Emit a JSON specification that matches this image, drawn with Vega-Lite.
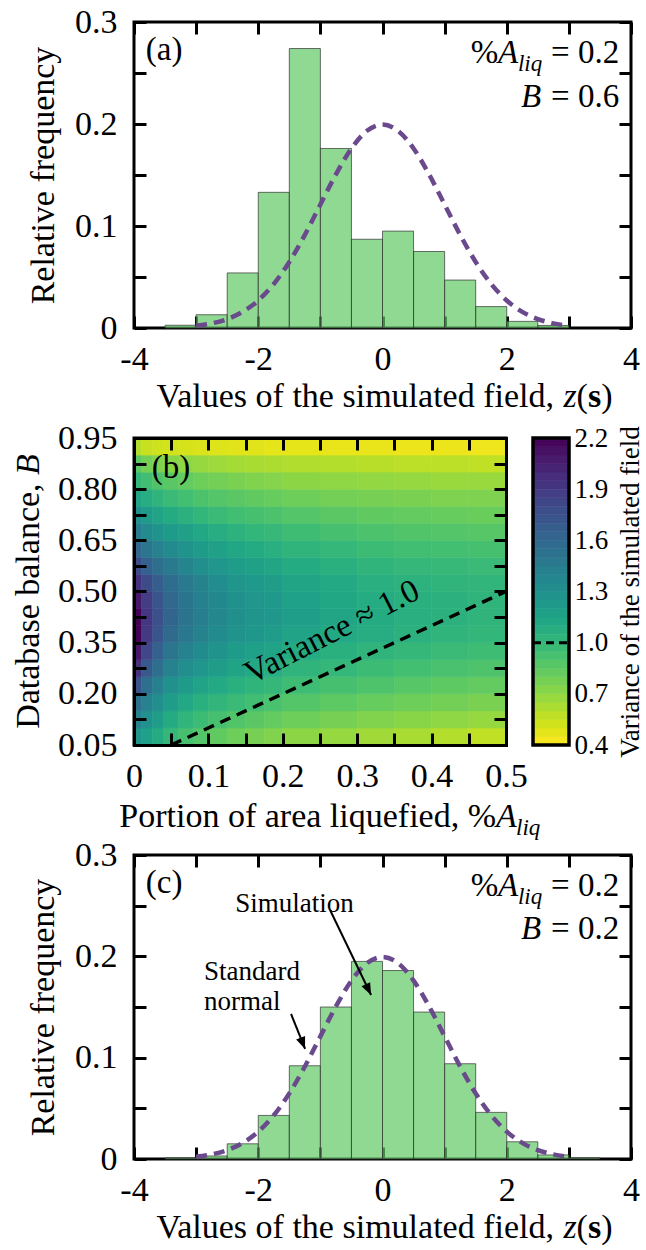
{
"$schema": "https://vega.github.io/schema/vega-lite/v6.json",
"padding": {"left": 10, "top": 3, "right": 0, "bottom": 0},
"background": "white",
"spacing": 110,
"bounds": "flush",
"config": {
  "font": "Liberation Serif",
  "view": {"stroke": "black", "strokeWidth": 3},
  "axis": {"domain": false, "grid": false, "tickColor": "black", "tickWidth": 3, "tickSize": -12, "labelFont": "Liberation Serif", "labelFontSize": 34, "labelColor": "black", "titleFont": "Liberation Serif", "titleFontSize": 34, "titleFontWeight": "normal", "titleColor": "black", "labelFlush": false, "labelOverlap": false},
  "text": {"font": "Liberation Serif", "fontSize": 33, "color": "black"}
},
"datasets": {
  "histA": [
    {"lo": -3.5, "hi": -3, "f": 0.0027}, {"lo": -3, "hi": -2.5, "f": 0.013}, {"lo": -2.5, "hi": -2, "f": 0.054},
    {"lo": -2, "hi": -1.5, "f": 0.133}, {"lo": -1.5, "hi": -1, "f": 0.274}, {"lo": -1, "hi": -0.5, "f": 0.176},
    {"lo": -0.5, "hi": 0, "f": 0.087}, {"lo": 0, "hi": 0.5, "f": 0.095}, {"lo": 0.5, "hi": 1, "f": 0.075},
    {"lo": 1, "hi": 1.5, "f": 0.047}, {"lo": 1.5, "hi": 2, "f": 0.021}, {"lo": 2, "hi": 2.5, "f": 0.0065},
    {"lo": 2.5, "hi": 3, "f": 0.0025}
  ],
  "histC": [
    {"lo": -3.5, "hi": -3, "f": 0.0012}, {"lo": -3, "hi": -2.5, "f": 0.003}, {"lo": -2.5, "hi": -2, "f": 0.015},
    {"lo": -2, "hi": -1.5, "f": 0.043}, {"lo": -1.5, "hi": -1, "f": 0.092}, {"lo": -1, "hi": -0.5, "f": 0.15},
    {"lo": -0.5, "hi": 0, "f": 0.195}, {"lo": 0, "hi": 0.5, "f": 0.186}, {"lo": 0.5, "hi": 1, "f": 0.145},
    {"lo": 1, "hi": 1.5, "f": 0.094}, {"lo": 1.5, "hi": 2, "f": 0.046}, {"lo": 2, "hi": 2.5, "f": 0.017},
    {"lo": 2.5, "hi": 3, "f": 0.004}, {"lo": 3, "hi": 3.5, "f": 0.0012}
  ],
  "normal": [
    {"z": -3, "d": 0.0022}, {"z": -2.75, "d": 0.00455}, {"z": -2.5, "d": 0.00876}, {"z": -2.25, "d": 0.01587},
    {"z": -2, "d": 0.027}, {"z": -1.75, "d": 0.04314}, {"z": -1.5, "d": 0.06476}, {"z": -1.25, "d": 0.09132},
    {"z": -1, "d": 0.12099}, {"z": -0.75, "d": 0.15057}, {"z": -0.5, "d": 0.17603}, {"z": -0.25, "d": 0.19333},
    {"z": 0, "d": 0.19947}, {"z": 0.25, "d": 0.19333}, {"z": 0.5, "d": 0.17603}, {"z": 0.75, "d": 0.15057},
    {"z": 1, "d": 0.12099}, {"z": 1.25, "d": 0.09132}, {"z": 1.5, "d": 0.06476}, {"z": 1.75, "d": 0.04314},
    {"z": 2, "d": 0.027}, {"z": 2.25, "d": 0.01587}, {"z": 2.5, "d": 0.00876}, {"z": 2.75, "d": 0.00455},
    {"z": 3, "d": 0.0022}
  ],
  "arrows": [
    {"x": -0.844, "y": 0.2457, "x2": -0.184, "y2": 0.1618},
    {"x": -1.472, "y": 0.1431, "x2": -1.246, "y2": 0.1086}
  ],
  "vline": [{"a": 0.05, "b": 0.05}, {"a": 0.5, "b": 0.5}],
  "cbar": [
    {"lo": 0.4, "hi": 0.45, "m": 0.425}, {"lo": 0.45, "hi": 0.5, "m": 0.475}, {"lo": 0.5, "hi": 0.55, "m": 0.525},
    {"lo": 0.55, "hi": 0.6, "m": 0.575}, {"lo": 0.6, "hi": 0.65, "m": 0.625}, {"lo": 0.65, "hi": 0.7, "m": 0.675},
    {"lo": 0.7, "hi": 0.75, "m": 0.725}, {"lo": 0.75, "hi": 0.8, "m": 0.775}, {"lo": 0.8, "hi": 0.85, "m": 0.825},
    {"lo": 0.85, "hi": 0.9, "m": 0.875}, {"lo": 0.9, "hi": 0.95, "m": 0.925}, {"lo": 0.95, "hi": 1.0, "m": 0.975},
    {"lo": 1.0, "hi": 1.05, "m": 1.025}, {"lo": 1.05, "hi": 1.1, "m": 1.075}, {"lo": 1.1, "hi": 1.15, "m": 1.125},
    {"lo": 1.15, "hi": 1.2, "m": 1.175}, {"lo": 1.2, "hi": 1.25, "m": 1.225}, {"lo": 1.25, "hi": 1.3, "m": 1.275},
    {"lo": 1.3, "hi": 1.35, "m": 1.325}, {"lo": 1.35, "hi": 1.4, "m": 1.375}, {"lo": 1.4, "hi": 1.45, "m": 1.425},
    {"lo": 1.45, "hi": 1.5, "m": 1.475}, {"lo": 1.5, "hi": 1.55, "m": 1.525}, {"lo": 1.55, "hi": 1.6, "m": 1.575},
    {"lo": 1.6, "hi": 1.65, "m": 1.625}, {"lo": 1.65, "hi": 1.7, "m": 1.675}, {"lo": 1.7, "hi": 1.75, "m": 1.725},
    {"lo": 1.75, "hi": 1.8, "m": 1.775}, {"lo": 1.8, "hi": 1.85, "m": 1.825}, {"lo": 1.85, "hi": 1.9, "m": 1.875},
    {"lo": 1.9, "hi": 1.95, "m": 1.925}, {"lo": 1.95, "hi": 2.0, "m": 1.975}, {"lo": 2.0, "hi": 2.05, "m": 2.025},
    {"lo": 2.05, "hi": 2.1, "m": 2.075}, {"lo": 2.1, "hi": 2.15, "m": 2.125}, {"lo": 2.15, "hi": 2.2, "m": 2.175}
  ],
  "heat": [
    {"a":0,"a2":0.01,"b":0.05,"b2":0.1,"v":1.25},{"a":0,"a2":0.01,"b":0.1,"b2":0.15,"v":1.4},{"a":0,"a2":0.01,"b":0.15,"b2":0.2,"v":1.55},{"a":0,"a2":0.01,"b":0.2,"b2":0.25,"v":1.75},{"a":0,"a2":0.01,"b":0.25,"b2":0.3,"v":1.95},{"a":0,"a2":0.01,"b":0.3,"b2":0.35,"v":2.1},{"a":0,"a2":0.01,"b":0.35,"b2":0.4,"v":2.2},{"a":0,"a2":0.01,"b":0.4,"b2":0.45,"v":2.2},{"a":0,"a2":0.01,"b":0.45,"b2":0.5,"v":2.1},{"a":0,"a2":0.01,"b":0.5,"b2":0.55,"v":1.95},{"a":0,"a2":0.01,"b":0.55,"b2":0.6,"v":1.8},{"a":0,"a2":0.01,"b":0.6,"b2":0.65,"v":1.6},{"a":0,"a2":0.01,"b":0.65,"b2":0.7,"v":1.45},{"a":0,"a2":0.01,"b":0.7,"b2":0.75,"v":1.3},{"a":0,"a2":0.01,"b":0.75,"b2":0.8,"v":1.15},{"a":0,"a2":0.01,"b":0.8,"b2":0.85,"v":1.0},{"a":0,"a2":0.01,"b":0.85,"b2":0.9,"v":0.85},{"a":0,"a2":0.01,"b":0.9,"b2":0.95,"v":0.6},
    {"a":0.01,"a2":0.025,"b":0.05,"b2":0.1,"v":1.18},{"a":0.01,"a2":0.025,"b":0.1,"b2":0.15,"v":1.3},{"a":0.01,"a2":0.025,"b":0.15,"b2":0.2,"v":1.42},{"a":0.01,"a2":0.025,"b":0.2,"b2":0.25,"v":1.55},{"a":0.01,"a2":0.025,"b":0.25,"b2":0.3,"v":1.7},{"a":0.01,"a2":0.025,"b":0.3,"b2":0.35,"v":1.82},{"a":0.01,"a2":0.025,"b":0.35,"b2":0.4,"v":1.9},{"a":0.01,"a2":0.025,"b":0.4,"b2":0.45,"v":1.92},{"a":0.01,"a2":0.025,"b":0.45,"b2":0.5,"v":1.88},{"a":0.01,"a2":0.025,"b":0.5,"b2":0.55,"v":1.8},{"a":0.01,"a2":0.025,"b":0.55,"b2":0.6,"v":1.65},{"a":0.01,"a2":0.025,"b":0.6,"b2":0.65,"v":1.5},{"a":0.01,"a2":0.025,"b":0.65,"b2":0.7,"v":1.35},{"a":0.01,"a2":0.025,"b":0.7,"b2":0.75,"v":1.22},{"a":0.01,"a2":0.025,"b":0.75,"b2":0.8,"v":1.08},{"a":0.01,"a2":0.025,"b":0.8,"b2":0.85,"v":0.95},{"a":0.01,"a2":0.025,"b":0.85,"b2":0.9,"v":0.78},{"a":0.01,"a2":0.025,"b":0.9,"b2":0.95,"v":0.55},
    {"a":0.025,"a2":0.04,"b":0.05,"b2":0.1,"v":1.1},{"a":0.025,"a2":0.04,"b":0.1,"b2":0.15,"v":1.2},{"a":0.025,"a2":0.04,"b":0.15,"b2":0.2,"v":1.32},{"a":0.025,"a2":0.04,"b":0.2,"b2":0.25,"v":1.43},{"a":0.025,"a2":0.04,"b":0.25,"b2":0.3,"v":1.55},{"a":0.025,"a2":0.04,"b":0.3,"b2":0.35,"v":1.65},{"a":0.025,"a2":0.04,"b":0.35,"b2":0.4,"v":1.73},{"a":0.025,"a2":0.04,"b":0.4,"b2":0.45,"v":1.76},{"a":0.025,"a2":0.04,"b":0.45,"b2":0.5,"v":1.73},{"a":0.025,"a2":0.04,"b":0.5,"b2":0.55,"v":1.67},{"a":0.025,"a2":0.04,"b":0.55,"b2":0.6,"v":1.55},{"a":0.025,"a2":0.04,"b":0.6,"b2":0.65,"v":1.42},{"a":0.025,"a2":0.04,"b":0.65,"b2":0.7,"v":1.28},{"a":0.025,"a2":0.04,"b":0.7,"b2":0.75,"v":1.15},{"a":0.025,"a2":0.04,"b":0.75,"b2":0.8,"v":1.03},{"a":0.025,"a2":0.04,"b":0.8,"b2":0.85,"v":0.9},{"a":0.025,"a2":0.04,"b":0.85,"b2":0.9,"v":0.75},{"a":0.025,"a2":0.04,"b":0.9,"b2":0.95,"v":0.53},
    {"a":0.04,"a2":0.06,"b":0.05,"b2":0.1,"v":1.0},{"a":0.04,"a2":0.06,"b":0.1,"b2":0.15,"v":1.1},{"a":0.04,"a2":0.06,"b":0.15,"b2":0.2,"v":1.2},{"a":0.04,"a2":0.06,"b":0.2,"b2":0.25,"v":1.3},{"a":0.04,"a2":0.06,"b":0.25,"b2":0.3,"v":1.41},{"a":0.04,"a2":0.06,"b":0.3,"b2":0.35,"v":1.5},{"a":0.04,"a2":0.06,"b":0.35,"b2":0.4,"v":1.58},{"a":0.04,"a2":0.06,"b":0.4,"b2":0.45,"v":1.62},{"a":0.04,"a2":0.06,"b":0.45,"b2":0.5,"v":1.61},{"a":0.04,"a2":0.06,"b":0.5,"b2":0.55,"v":1.56},{"a":0.04,"a2":0.06,"b":0.55,"b2":0.6,"v":1.47},{"a":0.04,"a2":0.06,"b":0.6,"b2":0.65,"v":1.35},{"a":0.04,"a2":0.06,"b":0.65,"b2":0.7,"v":1.22},{"a":0.04,"a2":0.06,"b":0.7,"b2":0.75,"v":1.1},{"a":0.04,"a2":0.06,"b":0.75,"b2":0.8,"v":0.98},{"a":0.04,"a2":0.06,"b":0.8,"b2":0.85,"v":0.86},{"a":0.04,"a2":0.06,"b":0.85,"b2":0.9,"v":0.72},{"a":0.04,"a2":0.06,"b":0.9,"b2":0.95,"v":0.52},
    {"a":0.06,"a2":0.08,"b":0.05,"b2":0.1,"v":0.93},{"a":0.06,"a2":0.08,"b":0.1,"b2":0.15,"v":1.02},{"a":0.06,"a2":0.08,"b":0.15,"b2":0.2,"v":1.12},{"a":0.06,"a2":0.08,"b":0.2,"b2":0.25,"v":1.22},{"a":0.06,"a2":0.08,"b":0.25,"b2":0.3,"v":1.32},{"a":0.06,"a2":0.08,"b":0.3,"b2":0.35,"v":1.41},{"a":0.06,"a2":0.08,"b":0.35,"b2":0.4,"v":1.48},{"a":0.06,"a2":0.08,"b":0.4,"b2":0.45,"v":1.52},{"a":0.06,"a2":0.08,"b":0.45,"b2":0.5,"v":1.51},{"a":0.06,"a2":0.08,"b":0.5,"b2":0.55,"v":1.47},{"a":0.06,"a2":0.08,"b":0.55,"b2":0.6,"v":1.39},{"a":0.06,"a2":0.08,"b":0.6,"b2":0.65,"v":1.28},{"a":0.06,"a2":0.08,"b":0.65,"b2":0.7,"v":1.17},{"a":0.06,"a2":0.08,"b":0.7,"b2":0.75,"v":1.05},{"a":0.06,"a2":0.08,"b":0.75,"b2":0.8,"v":0.94},{"a":0.06,"a2":0.08,"b":0.8,"b2":0.85,"v":0.83},{"a":0.06,"a2":0.08,"b":0.85,"b2":0.9,"v":0.7},{"a":0.06,"a2":0.08,"b":0.9,"b2":0.95,"v":0.51},
    {"a":0.08,"a2":0.1,"b":0.05,"b2":0.1,"v":0.88},{"a":0.08,"a2":0.1,"b":0.1,"b2":0.15,"v":0.97},{"a":0.08,"a2":0.1,"b":0.15,"b2":0.2,"v":1.06},{"a":0.08,"a2":0.1,"b":0.2,"b2":0.25,"v":1.16},{"a":0.08,"a2":0.1,"b":0.25,"b2":0.3,"v":1.26},{"a":0.08,"a2":0.1,"b":0.3,"b2":0.35,"v":1.34},{"a":0.08,"a2":0.1,"b":0.35,"b2":0.4,"v":1.4},{"a":0.08,"a2":0.1,"b":0.4,"b2":0.45,"v":1.44},{"a":0.08,"a2":0.1,"b":0.45,"b2":0.5,"v":1.43},{"a":0.08,"a2":0.1,"b":0.5,"b2":0.55,"v":1.4},{"a":0.08,"a2":0.1,"b":0.55,"b2":0.6,"v":1.32},{"a":0.08,"a2":0.1,"b":0.6,"b2":0.65,"v":1.22},{"a":0.08,"a2":0.1,"b":0.65,"b2":0.7,"v":1.12},{"a":0.08,"a2":0.1,"b":0.7,"b2":0.75,"v":1.01},{"a":0.08,"a2":0.1,"b":0.75,"b2":0.8,"v":0.91},{"a":0.08,"a2":0.1,"b":0.8,"b2":0.85,"v":0.8},{"a":0.08,"a2":0.1,"b":0.85,"b2":0.9,"v":0.68},{"a":0.08,"a2":0.1,"b":0.9,"b2":0.95,"v":0.5},
    {"a":0.1,"a2":0.125,"b":0.05,"b2":0.1,"v":0.84},{"a":0.1,"a2":0.125,"b":0.1,"b2":0.15,"v":0.93},{"a":0.1,"a2":0.125,"b":0.15,"b2":0.2,"v":1.02},{"a":0.1,"a2":0.125,"b":0.2,"b2":0.25,"v":1.11},{"a":0.1,"a2":0.125,"b":0.25,"b2":0.3,"v":1.2},{"a":0.1,"a2":0.125,"b":0.3,"b2":0.35,"v":1.28},{"a":0.1,"a2":0.125,"b":0.35,"b2":0.4,"v":1.34},{"a":0.1,"a2":0.125,"b":0.4,"b2":0.45,"v":1.37},{"a":0.1,"a2":0.125,"b":0.45,"b2":0.5,"v":1.36},{"a":0.1,"a2":0.125,"b":0.5,"b2":0.55,"v":1.33},{"a":0.1,"a2":0.125,"b":0.55,"b2":0.6,"v":1.26},{"a":0.1,"a2":0.125,"b":0.6,"b2":0.65,"v":1.17},{"a":0.1,"a2":0.125,"b":0.65,"b2":0.7,"v":1.08},{"a":0.1,"a2":0.125,"b":0.7,"b2":0.75,"v":0.98},{"a":0.1,"a2":0.125,"b":0.75,"b2":0.8,"v":0.88},{"a":0.1,"a2":0.125,"b":0.8,"b2":0.85,"v":0.78},{"a":0.1,"a2":0.125,"b":0.85,"b2":0.9,"v":0.66},{"a":0.1,"a2":0.125,"b":0.9,"b2":0.95,"v":0.49},
    {"a":0.125,"a2":0.15,"b":0.05,"b2":0.1,"v":0.8},{"a":0.125,"a2":0.15,"b":0.1,"b2":0.15,"v":0.89},{"a":0.125,"a2":0.15,"b":0.15,"b2":0.2,"v":0.98},{"a":0.125,"a2":0.15,"b":0.2,"b2":0.25,"v":1.06},{"a":0.125,"a2":0.15,"b":0.25,"b2":0.3,"v":1.15},{"a":0.125,"a2":0.15,"b":0.3,"b2":0.35,"v":1.22},{"a":0.125,"a2":0.15,"b":0.35,"b2":0.4,"v":1.28},{"a":0.125,"a2":0.15,"b":0.4,"b2":0.45,"v":1.31},{"a":0.125,"a2":0.15,"b":0.45,"b2":0.5,"v":1.3},{"a":0.125,"a2":0.15,"b":0.5,"b2":0.55,"v":1.27},{"a":0.125,"a2":0.15,"b":0.55,"b2":0.6,"v":1.21},{"a":0.125,"a2":0.15,"b":0.6,"b2":0.65,"v":1.13},{"a":0.125,"a2":0.15,"b":0.65,"b2":0.7,"v":1.04},{"a":0.125,"a2":0.15,"b":0.7,"b2":0.75,"v":0.95},{"a":0.125,"a2":0.15,"b":0.75,"b2":0.8,"v":0.86},{"a":0.125,"a2":0.15,"b":0.8,"b2":0.85,"v":0.76},{"a":0.125,"a2":0.15,"b":0.85,"b2":0.9,"v":0.64},{"a":0.125,"a2":0.15,"b":0.9,"b2":0.95,"v":0.48},
    {"a":0.15,"a2":0.175,"b":0.05,"b2":0.1,"v":0.77},{"a":0.15,"a2":0.175,"b":0.1,"b2":0.15,"v":0.86},{"a":0.15,"a2":0.175,"b":0.15,"b2":0.2,"v":0.95},{"a":0.15,"a2":0.175,"b":0.2,"b2":0.25,"v":1.03},{"a":0.15,"a2":0.175,"b":0.25,"b2":0.3,"v":1.11},{"a":0.15,"a2":0.175,"b":0.3,"b2":0.35,"v":1.18},{"a":0.15,"a2":0.175,"b":0.35,"b2":0.4,"v":1.24},{"a":0.15,"a2":0.175,"b":0.4,"b2":0.45,"v":1.27},{"a":0.15,"a2":0.175,"b":0.45,"b2":0.5,"v":1.26},{"a":0.15,"a2":0.175,"b":0.5,"b2":0.55,"v":1.23},{"a":0.15,"a2":0.175,"b":0.55,"b2":0.6,"v":1.17},{"a":0.15,"a2":0.175,"b":0.6,"b2":0.65,"v":1.1},{"a":0.15,"a2":0.175,"b":0.65,"b2":0.7,"v":1.01},{"a":0.15,"a2":0.175,"b":0.7,"b2":0.75,"v":0.93},{"a":0.15,"a2":0.175,"b":0.75,"b2":0.8,"v":0.84},{"a":0.15,"a2":0.175,"b":0.8,"b2":0.85,"v":0.74},{"a":0.15,"a2":0.175,"b":0.85,"b2":0.9,"v":0.63},{"a":0.15,"a2":0.175,"b":0.9,"b2":0.95,"v":0.48},
    {"a":0.175,"a2":0.2,"b":0.05,"b2":0.1,"v":0.74},{"a":0.175,"a2":0.2,"b":0.1,"b2":0.15,"v":0.83},{"a":0.175,"a2":0.2,"b":0.15,"b2":0.2,"v":0.92},{"a":0.175,"a2":0.2,"b":0.2,"b2":0.25,"v":1.0},{"a":0.175,"a2":0.2,"b":0.25,"b2":0.3,"v":1.08},{"a":0.175,"a2":0.2,"b":0.3,"b2":0.35,"v":1.15},{"a":0.175,"a2":0.2,"b":0.35,"b2":0.4,"v":1.21},{"a":0.175,"a2":0.2,"b":0.4,"b2":0.45,"v":1.24},{"a":0.175,"a2":0.2,"b":0.45,"b2":0.5,"v":1.23},{"a":0.175,"a2":0.2,"b":0.5,"b2":0.55,"v":1.2},{"a":0.175,"a2":0.2,"b":0.55,"b2":0.6,"v":1.14},{"a":0.175,"a2":0.2,"b":0.6,"b2":0.65,"v":1.07},{"a":0.175,"a2":0.2,"b":0.65,"b2":0.7,"v":0.99},{"a":0.175,"a2":0.2,"b":0.7,"b2":0.75,"v":0.91},{"a":0.175,"a2":0.2,"b":0.75,"b2":0.8,"v":0.82},{"a":0.175,"a2":0.2,"b":0.8,"b2":0.85,"v":0.73},{"a":0.175,"a2":0.2,"b":0.85,"b2":0.9,"v":0.62},{"a":0.175,"a2":0.2,"b":0.9,"b2":0.95,"v":0.47},
    {"a":0.2,"a2":0.25,"b":0.05,"b2":0.1,"v":0.71},{"a":0.2,"a2":0.25,"b":0.1,"b2":0.15,"v":0.8},{"a":0.2,"a2":0.25,"b":0.15,"b2":0.2,"v":0.88},{"a":0.2,"a2":0.25,"b":0.2,"b2":0.25,"v":0.96},{"a":0.2,"a2":0.25,"b":0.25,"b2":0.3,"v":1.03},{"a":0.2,"a2":0.25,"b":0.3,"b2":0.35,"v":1.1},{"a":0.2,"a2":0.25,"b":0.35,"b2":0.4,"v":1.16},{"a":0.2,"a2":0.25,"b":0.4,"b2":0.45,"v":1.19},{"a":0.2,"a2":0.25,"b":0.45,"b2":0.5,"v":1.18},{"a":0.2,"a2":0.25,"b":0.5,"b2":0.55,"v":1.15},{"a":0.2,"a2":0.25,"b":0.55,"b2":0.6,"v":1.1},{"a":0.2,"a2":0.25,"b":0.6,"b2":0.65,"v":1.03},{"a":0.2,"a2":0.25,"b":0.65,"b2":0.7,"v":0.96},{"a":0.2,"a2":0.25,"b":0.7,"b2":0.75,"v":0.88},{"a":0.2,"a2":0.25,"b":0.75,"b2":0.8,"v":0.8},{"a":0.2,"a2":0.25,"b":0.8,"b2":0.85,"v":0.71},{"a":0.2,"a2":0.25,"b":0.85,"b2":0.9,"v":0.61},{"a":0.2,"a2":0.25,"b":0.9,"b2":0.95,"v":0.47},
    {"a":0.25,"a2":0.3,"b":0.05,"b2":0.1,"v":0.68},{"a":0.25,"a2":0.3,"b":0.1,"b2":0.15,"v":0.77},{"a":0.25,"a2":0.3,"b":0.15,"b2":0.2,"v":0.85},{"a":0.25,"a2":0.3,"b":0.2,"b2":0.25,"v":0.93},{"a":0.25,"a2":0.3,"b":0.25,"b2":0.3,"v":1.0},{"a":0.25,"a2":0.3,"b":0.3,"b2":0.35,"v":1.06},{"a":0.25,"a2":0.3,"b":0.35,"b2":0.4,"v":1.11},{"a":0.25,"a2":0.3,"b":0.4,"b2":0.45,"v":1.14},{"a":0.25,"a2":0.3,"b":0.45,"b2":0.5,"v":1.13},{"a":0.25,"a2":0.3,"b":0.5,"b2":0.55,"v":1.11},{"a":0.25,"a2":0.3,"b":0.55,"b2":0.6,"v":1.06},{"a":0.25,"a2":0.3,"b":0.6,"b2":0.65,"v":1.0},{"a":0.25,"a2":0.3,"b":0.65,"b2":0.7,"v":0.93},{"a":0.25,"a2":0.3,"b":0.7,"b2":0.75,"v":0.86},{"a":0.25,"a2":0.3,"b":0.75,"b2":0.8,"v":0.78},{"a":0.25,"a2":0.3,"b":0.8,"b2":0.85,"v":0.7},{"a":0.25,"a2":0.3,"b":0.85,"b2":0.9,"v":0.6},{"a":0.25,"a2":0.3,"b":0.9,"b2":0.95,"v":0.46},
    {"a":0.3,"a2":0.35,"b":0.05,"b2":0.1,"v":0.65},{"a":0.3,"a2":0.35,"b":0.1,"b2":0.15,"v":0.74},{"a":0.3,"a2":0.35,"b":0.15,"b2":0.2,"v":0.82},{"a":0.3,"a2":0.35,"b":0.2,"b2":0.25,"v":0.9},{"a":0.3,"a2":0.35,"b":0.25,"b2":0.3,"v":0.97},{"a":0.3,"a2":0.35,"b":0.3,"b2":0.35,"v":1.03},{"a":0.3,"a2":0.35,"b":0.35,"b2":0.4,"v":1.08},{"a":0.3,"a2":0.35,"b":0.4,"b2":0.45,"v":1.1},{"a":0.3,"a2":0.35,"b":0.45,"b2":0.5,"v":1.09},{"a":0.3,"a2":0.35,"b":0.5,"b2":0.55,"v":1.07},{"a":0.3,"a2":0.35,"b":0.55,"b2":0.6,"v":1.03},{"a":0.3,"a2":0.35,"b":0.6,"b2":0.65,"v":0.97},{"a":0.3,"a2":0.35,"b":0.65,"b2":0.7,"v":0.91},{"a":0.3,"a2":0.35,"b":0.7,"b2":0.75,"v":0.84},{"a":0.3,"a2":0.35,"b":0.75,"b2":0.8,"v":0.77},{"a":0.3,"a2":0.35,"b":0.8,"b2":0.85,"v":0.69},{"a":0.3,"a2":0.35,"b":0.85,"b2":0.9,"v":0.59},{"a":0.3,"a2":0.35,"b":0.9,"b2":0.95,"v":0.46},
    {"a":0.35,"a2":0.4,"b":0.05,"b2":0.1,"v":0.63},{"a":0.35,"a2":0.4,"b":0.1,"b2":0.15,"v":0.72},{"a":0.35,"a2":0.4,"b":0.15,"b2":0.2,"v":0.8},{"a":0.35,"a2":0.4,"b":0.2,"b2":0.25,"v":0.87},{"a":0.35,"a2":0.4,"b":0.25,"b2":0.3,"v":0.94},{"a":0.35,"a2":0.4,"b":0.3,"b2":0.35,"v":1.0},{"a":0.35,"a2":0.4,"b":0.35,"b2":0.4,"v":1.05},{"a":0.35,"a2":0.4,"b":0.4,"b2":0.45,"v":1.07},{"a":0.35,"a2":0.4,"b":0.45,"b2":0.5,"v":1.06},{"a":0.35,"a2":0.4,"b":0.5,"b2":0.55,"v":1.04},{"a":0.35,"a2":0.4,"b":0.55,"b2":0.6,"v":1.0},{"a":0.35,"a2":0.4,"b":0.6,"b2":0.65,"v":0.95},{"a":0.35,"a2":0.4,"b":0.65,"b2":0.7,"v":0.89},{"a":0.35,"a2":0.4,"b":0.7,"b2":0.75,"v":0.83},{"a":0.35,"a2":0.4,"b":0.75,"b2":0.8,"v":0.76},{"a":0.35,"a2":0.4,"b":0.8,"b2":0.85,"v":0.68},{"a":0.35,"a2":0.4,"b":0.85,"b2":0.9,"v":0.58},{"a":0.35,"a2":0.4,"b":0.9,"b2":0.95,"v":0.45},
    {"a":0.4,"a2":0.45,"b":0.05,"b2":0.1,"v":0.6},{"a":0.4,"a2":0.45,"b":0.1,"b2":0.15,"v":0.7},{"a":0.4,"a2":0.45,"b":0.15,"b2":0.2,"v":0.78},{"a":0.4,"a2":0.45,"b":0.2,"b2":0.25,"v":0.85},{"a":0.4,"a2":0.45,"b":0.25,"b2":0.3,"v":0.92},{"a":0.4,"a2":0.45,"b":0.3,"b2":0.35,"v":0.98},{"a":0.4,"a2":0.45,"b":0.35,"b2":0.4,"v":1.03},{"a":0.4,"a2":0.45,"b":0.4,"b2":0.45,"v":1.05},{"a":0.4,"a2":0.45,"b":0.45,"b2":0.5,"v":1.05},{"a":0.4,"a2":0.45,"b":0.5,"b2":0.55,"v":1.03},{"a":0.4,"a2":0.45,"b":0.55,"b2":0.6,"v":0.99},{"a":0.4,"a2":0.45,"b":0.6,"b2":0.65,"v":0.94},{"a":0.4,"a2":0.45,"b":0.65,"b2":0.7,"v":0.88},{"a":0.4,"a2":0.45,"b":0.7,"b2":0.75,"v":0.82},{"a":0.4,"a2":0.45,"b":0.75,"b2":0.8,"v":0.75},{"a":0.4,"a2":0.45,"b":0.8,"b2":0.85,"v":0.67},{"a":0.4,"a2":0.45,"b":0.85,"b2":0.9,"v":0.58},{"a":0.4,"a2":0.45,"b":0.9,"b2":0.95,"v":0.45},
    {"a":0.45,"a2":0.5,"b":0.05,"b2":0.1,"v":0.57},{"a":0.45,"a2":0.5,"b":0.1,"b2":0.15,"v":0.68},{"a":0.45,"a2":0.5,"b":0.15,"b2":0.2,"v":0.76},{"a":0.45,"a2":0.5,"b":0.2,"b2":0.25,"v":0.83},{"a":0.45,"a2":0.5,"b":0.25,"b2":0.3,"v":0.9},{"a":0.45,"a2":0.5,"b":0.3,"b2":0.35,"v":0.96},{"a":0.45,"a2":0.5,"b":0.35,"b2":0.4,"v":1.01},{"a":0.45,"a2":0.5,"b":0.4,"b2":0.45,"v":1.03},{"a":0.45,"a2":0.5,"b":0.45,"b2":0.5,"v":1.03},{"a":0.45,"a2":0.5,"b":0.5,"b2":0.55,"v":1.02},{"a":0.45,"a2":0.5,"b":0.55,"b2":0.6,"v":0.98},{"a":0.45,"a2":0.5,"b":0.6,"b2":0.65,"v":0.93},{"a":0.45,"a2":0.5,"b":0.65,"b2":0.7,"v":0.87},{"a":0.45,"a2":0.5,"b":0.7,"b2":0.75,"v":0.81},{"a":0.45,"a2":0.5,"b":0.75,"b2":0.8,"v":0.75},{"a":0.45,"a2":0.5,"b":0.8,"b2":0.85,"v":0.67},{"a":0.45,"a2":0.5,"b":0.85,"b2":0.9,"v":0.57},{"a":0.45,"a2":0.5,"b":0.9,"b2":0.95,"v":0.44}
  ]
},
"vconcat": [
  {
    "width": 497, "height": 306,
    "layer": [
      {"data": {"name": "histA"},
       "mark": {"type": "rect", "fill": "#5fc965", "fillOpacity": 0.7, "stroke": "#333333", "strokeWidth": 1, "strokeOpacity": 0.7},
       "encoding": {
         "x": {"field": "lo", "type": "quantitative", "scale": {"domain": [-4, 4], "nice": false, "zero": false},
               "axis": {"values": [-4, -3, -2, -1, 0, 1, 2, 3, 4], "labelExpr": "datum.value % 2 == 0 ? '' + datum.value : ''", "title": null, "labelPadding": 26}},
         "x2": {"field": "hi"},
         "y": {"field": "f", "type": "quantitative", "scale": {"domain": [0, 0.3], "nice": false},
               "axis": {"values": [0, 0.05, 0.1, 0.15, 0.2, 0.25, 0.3], "labelExpr": "round(datum.value*100) % 10 == 0 ? '' + round(datum.value*10)/10 : ''", "title": "Relative frequency", "labelPadding": 29, "titlePadding": 14}},
         "y2": {"datum": 0}}},
      {"data": {"name": "normal"},
       "mark": {"type": "line", "stroke": "#6a4a8c", "strokeWidth": 4.5, "strokeDash": [11, 7], "interpolate": "monotone"},
       "encoding": {"x": {"field": "z", "type": "quantitative", "axis": null}, "y": {"field": "d", "type": "quantitative", "axis": null}}},
      {"data": {"name": "normal"},
       "mark": {"type": "point", "opacity": 0},
       "encoding": {
         "x": {"field": "z", "type": "quantitative", "axis": {"orient": "top", "values": [-4, -3, -2, -1, 0, 1, 2, 3, 4], "labels": false, "title": null}},
         "y": {"field": "d", "type": "quantitative", "axis": {"orient": "right", "values": [0, 0.05, 0.1, 0.15, 0.2, 0.25, 0.3], "labels": false, "title": null}}}},
      {"data": {"values": [{}]}, "mark": {"type": "text", "text": "(a)", "align": "left", "baseline": "alphabetic"},
       "encoding": {"x": {"datum": -3.81, "type": "quantitative", "axis": null}, "y": {"datum": 0.2627, "type": "quantitative", "axis": null}}},
      {"data": {"values": [{}]}, "mark": {"type": "text", "text": "= 0.2", "align": "right", "baseline": "alphabetic"},
       "encoding": {"x": {"datum": 3.81, "type": "quantitative", "axis": null}, "y": {"datum": 0.2598, "type": "quantitative", "axis": null}}},
      {"data": {"values": [{}]}, "mark": {"type": "text", "text": "liq", "align": "right", "baseline": "alphabetic", "fontStyle": "italic", "fontSize": 23, "dx": -77, "dy": 8},
       "encoding": {"x": {"datum": 3.81, "type": "quantitative", "axis": null}, "y": {"datum": 0.2598, "type": "quantitative", "axis": null}}},
      {"data": {"values": [{}]}, "mark": {"type": "text", "text": "A", "align": "right", "baseline": "alphabetic", "fontStyle": "italic", "dx": -101},
       "encoding": {"x": {"datum": 3.81, "type": "quantitative", "axis": null}, "y": {"datum": 0.2598, "type": "quantitative", "axis": null}}},
      {"data": {"values": [{}]}, "mark": {"type": "text", "text": "%", "align": "right", "baseline": "alphabetic", "dx": -121},
       "encoding": {"x": {"datum": 3.81, "type": "quantitative", "axis": null}, "y": {"datum": 0.2598, "type": "quantitative", "axis": null}}},
      {"data": {"values": [{}]}, "mark": {"type": "text", "text": "= 0.6", "align": "right", "baseline": "alphabetic"},
       "encoding": {"x": {"datum": 3.81, "type": "quantitative", "axis": null}, "y": {"datum": 0.2167, "type": "quantitative", "axis": null}}},
      {"data": {"values": [{}]}, "mark": {"type": "text", "text": "B", "align": "right", "baseline": "alphabetic", "fontStyle": "italic", "dx": -78},
       "encoding": {"x": {"datum": 3.81, "type": "quantitative", "axis": null}, "y": {"datum": 0.2167, "type": "quantitative", "axis": null}}},
      {"data": {"values": [{}]}, "mark": {"type": "text", "text": "Values of the simulated field,", "align": "right", "baseline": "alphabetic", "fontSize": 34, "dx": -8.5},
       "encoding": {"x": {"datum": 2.897, "type": "quantitative", "axis": null}, "y": {"datum": -0.0775, "type": "quantitative", "axis": null}}},
      {"data": {"values": [{}]}, "mark": {"type": "text", "text": "z", "align": "left", "baseline": "alphabetic", "fontSize": 34, "fontStyle": "italic", "dx": 1},
       "encoding": {"x": {"datum": 2.897, "type": "quantitative", "axis": null}, "y": {"datum": -0.0775, "type": "quantitative", "axis": null}}},
      {"data": {"values": [{}]}, "mark": {"type": "text", "text": "(", "align": "left", "baseline": "alphabetic", "fontSize": 34, "dx": 14},
       "encoding": {"x": {"datum": 2.897, "type": "quantitative", "axis": null}, "y": {"datum": -0.0775, "type": "quantitative", "axis": null}}},
      {"data": {"values": [{}]}, "mark": {"type": "text", "text": "s", "align": "left", "baseline": "alphabetic", "fontSize": 34, "fontWeight": "bold", "dx": 25.5},
       "encoding": {"x": {"datum": 2.897, "type": "quantitative", "axis": null}, "y": {"datum": -0.0775, "type": "quantitative", "axis": null}}},
      {"data": {"values": [{}]}, "mark": {"type": "text", "text": ")", "align": "left", "baseline": "alphabetic", "fontSize": 34, "dx": 38.7},
       "encoding": {"x": {"datum": 2.897, "type": "quantitative", "axis": null}, "y": {"datum": -0.0775, "type": "quantitative", "axis": null}}}
    ],
    "resolve": {"axis": {"x": "independent", "y": "independent"}}
  },
  {
    "width": 372, "height": 307,
    "layer": [
      {"data": {"name": "heat"},
       "mark": {"type": "rect", "strokeWidth": 0.6},
       "encoding": {
         "x": {"field": "a", "type": "quantitative", "scale": {"domain": [0, 0.5], "nice": false, "zero": false},
               "axis": {"values": [0, 0.05, 0.1, 0.15, 0.2, 0.25, 0.3, 0.35, 0.4, 0.45, 0.5], "labelExpr": "round(datum.value*100) % 10 == 0 ? '' + round(datum.value*10)/10 : ''", "title": null, "labelPadding": 26, "zindex": 1, "domain": true, "domainColor": "black", "domainWidth": 3, "domainCap": "square"}},
         "x2": {"field": "a2"},
         "y": {"field": "b", "type": "quantitative", "scale": {"domain": [0.05, 0.95], "nice": false, "zero": false},
               "axis": {"values": [0.05, 0.125, 0.2, 0.275, 0.35, 0.425, 0.5, 0.575, 0.65, 0.725, 0.8, 0.875, 0.95], "labelExpr": "round(datum.value*1000) % 150 == 50 ? format(datum.value, '.2f') : ''", "title": null, "labelPadding": 29, "zindex": 1, "domain": true, "domainColor": "black", "domainWidth": 3, "domainCap": "square"}},
         "y2": {"field": "b2"},
         "color": {"field": "v", "type": "quantitative", "scale": {"scheme": "viridis", "reverse": true, "domain": [0.4, 2.2]}, "legend": null},
         "stroke": {"field": "v", "type": "quantitative", "scale": {"scheme": "viridis", "reverse": true, "domain": [0.4, 2.2]}, "legend": null}}},
      {"data": {"name": "vline"},
       "mark": {"type": "line", "stroke": "black", "strokeWidth": 3.5, "strokeDash": [11, 7]},
       "encoding": {"x": {"field": "a", "type": "quantitative", "axis": null}, "y": {"field": "b", "type": "quantitative", "scale": {"domain": [0.05, 0.95], "nice": false, "zero": false}, "axis": null}}},
      {"data": {"name": "vline"},
       "mark": {"type": "point", "opacity": 0},
       "encoding": {
         "x": {"field": "a", "type": "quantitative", "axis": {"orient": "top", "values": [0, 0.05, 0.1, 0.15, 0.2, 0.25, 0.3, 0.35, 0.4, 0.45, 0.5], "labels": false, "title": null, "zindex": 1, "domain": true, "domainColor": "black", "domainWidth": 3, "domainCap": "square"}},
         "y": {"field": "b", "type": "quantitative", "scale": {"domain": [0.05, 0.95], "nice": false, "zero": false}, "axis": {"orient": "right", "values": [0.05, 0.125, 0.2, 0.275, 0.35, 0.425, 0.5, 0.575, 0.65, 0.725, 0.8, 0.875, 0.95], "labels": false, "title": null, "zindex": 1, "domain": true, "domainColor": "black", "domainWidth": 3, "domainCap": "square"}}}},
      {"data": {"values": [{}]}, "mark": {"type": "text", "text": "(b)", "align": "left", "baseline": "alphabetic"},
       "encoding": {"x": {"datum": 0.024, "type": "quantitative", "axis": null}, "y": {"datum": 0.833, "type": "quantitative", "scale": {"domain": [0.05, 0.95], "nice": false, "zero": false}, "axis": null}}},
      {"data": {"values": [{}]}, "mark": {"type": "text", "text": "Variance ≈ 1.0", "align": "center", "baseline": "middle", "angle": -27},
       "encoding": {"x": {"datum": 0.266, "type": "quantitative", "axis": null}, "y": {"datum": 0.381, "type": "quantitative", "scale": {"domain": [0.05, 0.95], "nice": false, "zero": false}, "axis": null}}},
      {"data": {"values": [{}]}, "mark": {"type": "text", "text": "Portion of area liquefied, %", "align": "right", "baseline": "alphabetic", "fontSize": 34},
       "encoding": {"x": {"datum": 0.4866, "type": "quantitative", "axis": null}, "y": {"datum": -0.19, "type": "quantitative", "scale": {"domain": [0.05, 0.95], "nice": false, "zero": false}, "axis": null}}},
      {"data": {"values": [{}]}, "mark": {"type": "text", "text": "A", "align": "left", "baseline": "alphabetic", "fontSize": 34, "fontStyle": "italic"},
       "encoding": {"x": {"datum": 0.4866, "type": "quantitative", "axis": null}, "y": {"datum": -0.19, "type": "quantitative", "scale": {"domain": [0.05, 0.95], "nice": false, "zero": false}, "axis": null}}},
      {"data": {"values": [{}]}, "mark": {"type": "text", "text": "liq", "align": "left", "baseline": "alphabetic", "fontSize": 23, "fontStyle": "italic", "dx": 20, "dy": 8},
       "encoding": {"x": {"datum": 0.4866, "type": "quantitative", "axis": null}, "y": {"datum": -0.19, "type": "quantitative", "scale": {"domain": [0.05, 0.95], "nice": false, "zero": false}, "axis": null}}},
      {"data": {"values": [{}]}, "mark": {"type": "text", "text": "Database balance,", "align": "right", "baseline": "alphabetic", "fontSize": 34, "angle": 270, "dx": -8.5},
       "encoding": {"x": {"datum": -0.1277, "type": "quantitative", "axis": null}, "y": {"datum": 0.8418, "type": "quantitative", "scale": {"domain": [0.05, 0.95], "nice": false, "zero": false}, "axis": null}}},
      {"data": {"values": [{}]}, "mark": {"type": "text", "text": "B", "align": "left", "baseline": "alphabetic", "fontSize": 34, "angle": 270, "fontStyle": "italic"},
       "encoding": {"x": {"datum": -0.1277, "type": "quantitative", "axis": null}, "y": {"datum": 0.8418, "type": "quantitative", "scale": {"domain": [0.05, 0.95], "nice": false, "zero": false}, "axis": null}}},
      {"data": {"name": "cbar"},
       "mark": {"type": "rect", "strokeWidth": 0.6},
       "encoding": {
         "x": {"datum": 0.5363, "type": "quantitative", "axis": null},
         "x2": {"datum": 0.5847},
         "y": {"field": "lo", "type": "quantitative", "scale": {"domain": [0.4, 2.2], "nice": false, "zero": false},
               "axis": {"orient": "right", "offset": 63, "values": [0.4, 0.7, 1.0, 1.3, 1.6, 1.9, 2.2], "labelExpr": "format(datum.value, '.1f')", "ticks": false, "domain": false, "labelFontSize": 27, "labelPadding": 5, "title": "Variance of the simulated field", "titleFontSize": 27, "titleAngle": 270, "titleBaseline": "top", "titlePadding": 10}},
         "y2": {"field": "hi"},
         "color": {"field": "m", "type": "quantitative", "scale": {"scheme": "viridis", "reverse": true, "domain": [0.4, 2.2]}, "legend": null},
         "stroke": {"field": "m", "type": "quantitative", "scale": {"scheme": "viridis", "reverse": true, "domain": [0.4, 2.2]}, "legend": null}}},
      {"data": {"values": [{}]},
       "mark": {"type": "rule", "stroke": "black", "strokeWidth": 3, "strokeDash": [8, 5]},
       "encoding": {"x": {"datum": 0.5363, "type": "quantitative", "axis": null}, "x2": {"datum": 0.5847}, "y": {"datum": 1.0, "type": "quantitative", "scale": {"domain": [0.4, 2.2], "nice": false, "zero": false}, "axis": null}}},
      {"data": {"values": [{}]},
       "mark": {"type": "rect", "fillOpacity": 0, "stroke": "black", "strokeWidth": 3.5},
       "encoding": {"x": {"datum": 0.5363, "type": "quantitative", "axis": null}, "x2": {"datum": 0.5847}, "y": {"datum": 0.4, "type": "quantitative", "scale": {"domain": [0.4, 2.2], "nice": false, "zero": false}, "axis": null}, "y2": {"datum": 2.2}}}
    ],
    "resolve": {"scale": {"y": "independent"}, "axis": {"x": "independent", "y": "independent"}}
  },
  {
    "width": 497, "height": 304,
    "layer": [
      {"data": {"name": "histC"},
       "mark": {"type": "rect", "fill": "#5fc965", "fillOpacity": 0.7, "stroke": "#333333", "strokeWidth": 1, "strokeOpacity": 0.7},
       "encoding": {
         "x": {"field": "lo", "type": "quantitative", "scale": {"domain": [-4, 4], "nice": false, "zero": false},
               "axis": {"values": [-4, -3, -2, -1, 0, 1, 2, 3, 4], "labelExpr": "datum.value % 2 == 0 ? '' + datum.value : ''", "title": null, "labelPadding": 26}},
         "x2": {"field": "hi"},
         "y": {"field": "f", "type": "quantitative", "scale": {"domain": [0, 0.3], "nice": false},
               "axis": {"values": [0, 0.05, 0.1, 0.15, 0.2, 0.25, 0.3], "labelExpr": "round(datum.value*100) % 10 == 0 ? '' + round(datum.value*10)/10 : ''", "title": "Relative frequency", "labelPadding": 29, "titlePadding": 14}},
         "y2": {"datum": 0}}},
      {"data": {"name": "normal"},
       "mark": {"type": "line", "stroke": "#6a4a8c", "strokeWidth": 4.5, "strokeDash": [11, 7], "interpolate": "monotone"},
       "encoding": {"x": {"field": "z", "type": "quantitative", "axis": null}, "y": {"field": "d", "type": "quantitative", "axis": null}}},
      {"data": {"name": "normal"},
       "mark": {"type": "point", "opacity": 0},
       "encoding": {
         "x": {"field": "z", "type": "quantitative", "axis": {"orient": "top", "values": [-4, -3, -2, -1, 0, 1, 2, 3, 4], "labels": false, "title": null}},
         "y": {"field": "d", "type": "quantitative", "axis": {"orient": "right", "values": [0, 0.05, 0.1, 0.15, 0.2, 0.25, 0.3], "labels": false, "title": null}}}},
      {"data": {"name": "arrows"},
       "mark": {"type": "rule", "stroke": "black", "strokeWidth": 2},
       "encoding": {"x": {"field": "x", "type": "quantitative", "axis": null}, "y": {"field": "y", "type": "quantitative", "axis": null}, "x2": {"field": "x2"}, "y2": {"field": "y2"}}},
      {"data": {"values": [{}]}, "mark": {"type": "point", "shape": "M0,0L-0.4,1L0.4,1Z", "filled": true, "fill": "black", "opacity": 1, "size": 576, "angle": 154},
       "encoding": {"x": {"datum": -0.184, "type": "quantitative", "axis": null}, "y": {"datum": 0.1618, "type": "quantitative", "axis": null}}},
      {"data": {"values": [{}]}, "mark": {"type": "point", "shape": "M0,0L-0.4,1L0.4,1Z", "filled": true, "fill": "black", "opacity": 1, "size": 576, "angle": 158},
       "encoding": {"x": {"datum": -1.246, "type": "quantitative", "axis": null}, "y": {"datum": 0.1086, "type": "quantitative", "axis": null}}},
      {"data": {"values": [{}]}, "mark": {"type": "text", "text": "Simulation", "align": "center", "baseline": "alphabetic", "fontSize": 27},
       "encoding": {"x": {"datum": -1.415, "type": "quantitative", "axis": null}, "y": {"datum": 0.2438, "type": "quantitative", "axis": null}}},
      {"data": {"values": [{}]}, "mark": {"type": "text", "text": "Standard", "align": "left", "baseline": "alphabetic", "fontSize": 27},
       "encoding": {"x": {"datum": -2.873, "type": "quantitative", "axis": null}, "y": {"datum": 0.1766, "type": "quantitative", "axis": null}}},
      {"data": {"values": [{}]}, "mark": {"type": "text", "text": "normal", "align": "left", "baseline": "alphabetic", "fontSize": 27},
       "encoding": {"x": {"datum": -2.873, "type": "quantitative", "axis": null}, "y": {"datum": 0.147, "type": "quantitative", "axis": null}}},
      {"data": {"values": [{}]}, "mark": {"type": "text", "text": "(c)", "align": "left", "baseline": "alphabetic"},
       "encoding": {"x": {"datum": -3.81, "type": "quantitative", "axis": null}, "y": {"datum": 0.2627, "type": "quantitative", "axis": null}}},
      {"data": {"values": [{}]}, "mark": {"type": "text", "text": "= 0.2", "align": "right", "baseline": "alphabetic"},
       "encoding": {"x": {"datum": 3.81, "type": "quantitative", "axis": null}, "y": {"datum": 0.2598, "type": "quantitative", "axis": null}}},
      {"data": {"values": [{}]}, "mark": {"type": "text", "text": "liq", "align": "right", "baseline": "alphabetic", "fontStyle": "italic", "fontSize": 23, "dx": -77, "dy": 8},
       "encoding": {"x": {"datum": 3.81, "type": "quantitative", "axis": null}, "y": {"datum": 0.2598, "type": "quantitative", "axis": null}}},
      {"data": {"values": [{}]}, "mark": {"type": "text", "text": "A", "align": "right", "baseline": "alphabetic", "fontStyle": "italic", "dx": -101},
       "encoding": {"x": {"datum": 3.81, "type": "quantitative", "axis": null}, "y": {"datum": 0.2598, "type": "quantitative", "axis": null}}},
      {"data": {"values": [{}]}, "mark": {"type": "text", "text": "%", "align": "right", "baseline": "alphabetic", "dx": -121},
       "encoding": {"x": {"datum": 3.81, "type": "quantitative", "axis": null}, "y": {"datum": 0.2598, "type": "quantitative", "axis": null}}},
      {"data": {"values": [{}]}, "mark": {"type": "text", "text": "= 0.2", "align": "right", "baseline": "alphabetic"},
       "encoding": {"x": {"datum": 3.81, "type": "quantitative", "axis": null}, "y": {"datum": 0.2167, "type": "quantitative", "axis": null}}},
      {"data": {"values": [{}]}, "mark": {"type": "text", "text": "B", "align": "right", "baseline": "alphabetic", "fontStyle": "italic", "dx": -78},
       "encoding": {"x": {"datum": 3.81, "type": "quantitative", "axis": null}, "y": {"datum": 0.2167, "type": "quantitative", "axis": null}}},
      {"data": {"values": [{}]}, "mark": {"type": "text", "text": "Values of the simulated field,", "align": "right", "baseline": "alphabetic", "fontSize": 34, "dx": -8.5},
       "encoding": {"x": {"datum": 2.897, "type": "quantitative", "axis": null}, "y": {"datum": -0.0775, "type": "quantitative", "axis": null}}},
      {"data": {"values": [{}]}, "mark": {"type": "text", "text": "z", "align": "left", "baseline": "alphabetic", "fontSize": 34, "fontStyle": "italic", "dx": 1},
       "encoding": {"x": {"datum": 2.897, "type": "quantitative", "axis": null}, "y": {"datum": -0.0775, "type": "quantitative", "axis": null}}},
      {"data": {"values": [{}]}, "mark": {"type": "text", "text": "(", "align": "left", "baseline": "alphabetic", "fontSize": 34, "dx": 14},
       "encoding": {"x": {"datum": 2.897, "type": "quantitative", "axis": null}, "y": {"datum": -0.0775, "type": "quantitative", "axis": null}}},
      {"data": {"values": [{}]}, "mark": {"type": "text", "text": "s", "align": "left", "baseline": "alphabetic", "fontSize": 34, "fontWeight": "bold", "dx": 25.5},
       "encoding": {"x": {"datum": 2.897, "type": "quantitative", "axis": null}, "y": {"datum": -0.0775, "type": "quantitative", "axis": null}}},
      {"data": {"values": [{}]}, "mark": {"type": "text", "text": ")", "align": "left", "baseline": "alphabetic", "fontSize": 34, "dx": 38.7},
       "encoding": {"x": {"datum": 2.897, "type": "quantitative", "axis": null}, "y": {"datum": -0.0775, "type": "quantitative", "axis": null}}}
    ],
    "resolve": {"axis": {"x": "independent", "y": "independent"}}
  }
]
}
